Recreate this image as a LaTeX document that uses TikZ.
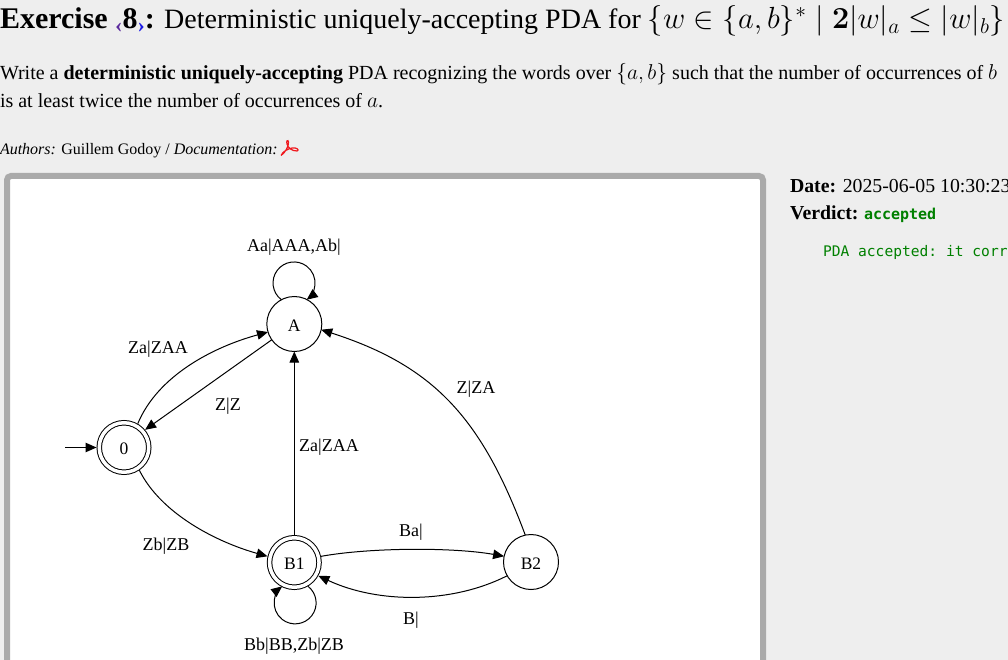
\documentclass[tikz,border=0pt]{standalone}
\usepackage{fix-cm}
\usepackage{fontspec}
\setmainfont{Liberation Serif}
\setmonofont{DejaVu Sans Mono}
\usetikzlibrary{arrows.meta, positioning}
\definecolor{pagebg}{HTML}{EEEEEE}
\definecolor{panelgray}{HTML}{AAAAAA}
\definecolor{okgreen}{HTML}{008000}
\definecolor{navleft}{HTML}{5B2A9D}
\definecolor{navright}{HTML}{1A1AE6}
\definecolor{pdfred}{HTML}{F0191E}
\newcommand{\sizedmath}[2]{{\fontsize{#1}{#1}\selectfont$#2$}}
\newcommand{\navmark}[2]{\raisebox{-3.5pt}{\fontsize{22}{22}\selectfont\color{#1}#2}}
\tikzstyle{state} = [circle, draw, line width=1pt, minimum size=55pt, inner sep=0pt, outer sep=0pt,
  text height=14.5pt, text depth=0pt, font=\fontsize{17.5}{20}\selectfont]
\tikzstyle{final} = [state, double, double distance=3.5pt, outer sep=2.75pt, minimum size=49.5pt]
\tikzstyle{arrow} = [line width=1pt, -{Triangle[length=11pt,width=9.5pt]}]
\tikzstyle{elabel} = [inner sep=0pt, yshift=-1.5pt, font=\fontsize{18}{20}\selectfont]
\tikzstyle{textline} = [anchor=base west, inner sep=0pt, outer sep=0pt]
\begin{document}
\begin{tikzpicture}[x=1pt, y=-1pt]
    \useasboundingbox (0,0) rectangle (1008,660);
    \clip (0,0) rectangle (1008,660);
    \fill[pagebg] (0,0) rectangle (1008,660);

    % Heading
    \node[textline, font=\fontsize{28}{32}\selectfont] (title) at (0,29) {{\fontsize{30}{32}\selectfont\textbf{Exercise \navmark{navleft}{‹}8\navmark{navright}{›}:}} Deterministic uniquely-accepting PDA for \sizedmath{30.6}{\{w\in\{a,b\}^*\mid \mbox{\usefont{OT1}{cmr}{bx}{n}2}|w|_a\leq|w|_b\}}};
    \node[textline, font=\fontsize{20}{22}\selectfont] (line1) at (0,80) {Write a \textbf{deterministic uniquely-accepting} PDA recognizing the words over \sizedmath{21.5}{\{a,b\}} such that the number of occurrences of \sizedmath{21.5}{b}};
    \node[textline, font=\fontsize{20}{22}\selectfont] (line2) at (0,108) {is at least twice the number of occurrences of \sizedmath{21.5}{a}.};
    \node[textline, font=\fontsize{16}{18}\selectfont] (authors) at (0,155) {\textit{Authors:} Guillem Godoy / \textit{Documentation:}};
    \draw[pdfred, line width=1.2pt] (281,155.5) .. controls (285,153) and (289,146) .. (288.5,142)
      .. controls (288,139) and (286,141) .. (287,144) .. controls (288,148) and (292,151) .. (297,151)
      .. controls (300,150) and (296,147) .. (292,148) .. controls (288,149) and (283,151) .. (281,155.5);

    % Side panel
    \node[textline, font=\fontsize{19.8}{22}\selectfont] (date) at (790,193) {\textbf{Date:} 2025-06-05 10:30:23};
    \node[textline, font=\fontsize{19.8}{22}\selectfont] (verdict) at (790,219) {\textbf{Verdict:}};
    \node[textline, font=\fontsize{15}{18}\selectfont\ttfamily\bfseries, text=okgreen] (accepted) at (864,219) {accepted};
    \node[textline, font=\fontsize{14.6}{18}\selectfont\ttfamily, text=okgreen] (message) at (823,256) {PDA accepted: it corr};

    % Frame
    \draw[panelgray, fill=white, line width=6pt, rounded corners=4pt] (7,176) rectangle (763,720);

    % States
    \node[state] (A) at (294.3,324) {A};
    \node[final] (q0) at (124,447.5) {0};
    \node[final] (B1) at (294.3,562.5) {B1};
    \node[state] (B2) at (531,562) {B2};
    \coordinate (start) at (65,447.5);

    % Arrows
    \draw[arrow] (start) -- (q0);
    \draw[arrow] (q0.60) .. controls +(20,-48) and +(-55,15) .. (A.197);
    \draw[arrow] (A.215) -- (q0.40);
    \draw[arrow] (q0.-56) .. controls +(22,44) and +(-50,-14) .. (B1.167);
    \draw[arrow] (B1) -- (A);
    \draw[arrow] (B2.102) .. controls +(-44,-118) and +(112,36) .. (A.-12);
    \draw[arrow] (B1.13) .. controls +(50,-9) and +(-50,-9) .. (B2.168);
    \draw[arrow] (B2.210) .. controls +(-55,28) and +(60,28) .. (B1.-29);
    \draw[arrow] (A.118) arc[start angle=127, end angle=413, radius=21];
    \draw[arrow] (B1.-60) arc[start angle=-52, end angle=232, radius=21];

    % Labels
    \node[elabel] (l1) at (294,246) {Aa|AAA,Ab|};
    \node[elabel] (l2) at (158,348) {Za|ZAA};
    \node[elabel] (l3) at (228,405) {Z|Z};
    \node[elabel] (l4) at (329,446) {Za|ZAA};
    \node[elabel] (l5) at (476,388) {Z|ZA};
    \node[elabel] (l6) at (166,545) {Zb|ZB};
    \node[elabel] (l7) at (411,531) {Ba|};
    \node[elabel] (l8) at (411,619) {B|};
    \node[elabel] (l9) at (294,645) {Bb|BB,Zb|ZB};
\end{tikzpicture}
\end{document}
